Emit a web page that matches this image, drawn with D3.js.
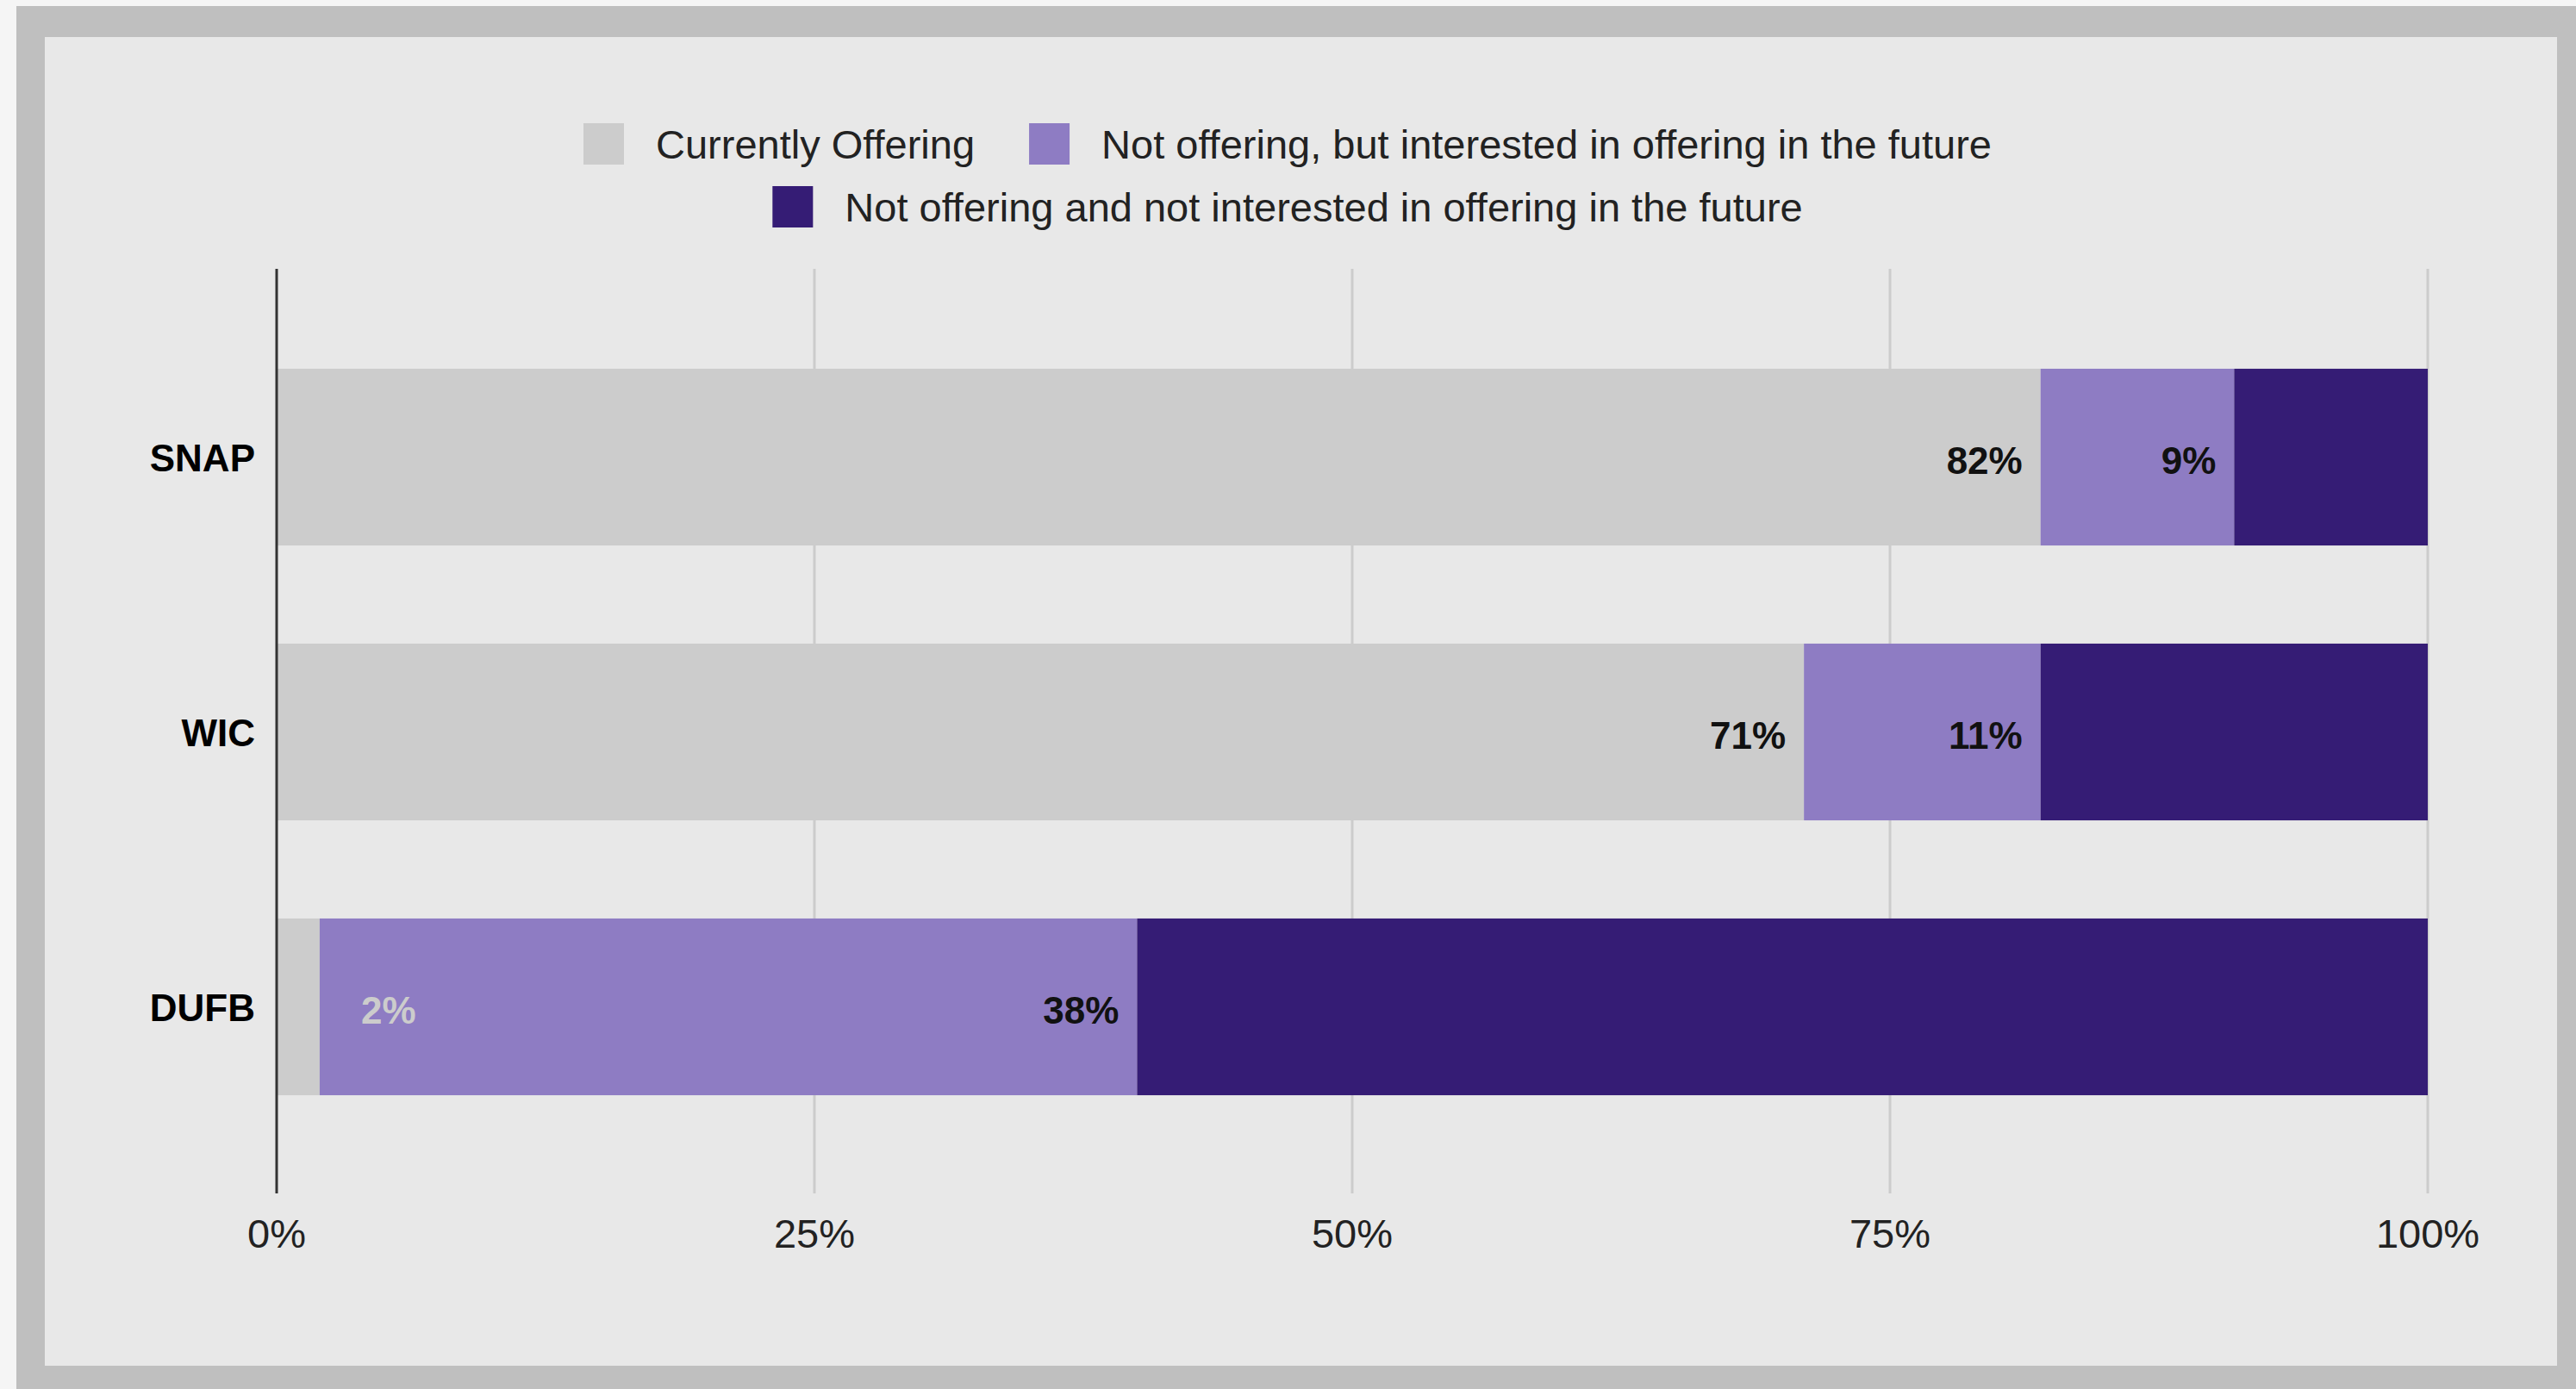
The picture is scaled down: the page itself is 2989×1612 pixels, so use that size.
<!DOCTYPE html>
<html>
<head>
<meta charset="utf-8">
<script src="https://cdn.jsdelivr.net/npm/d3@7"></script>
<style>
  body { margin: 0; background: #f5f5f5; }
  text { font-family: "Liberation Sans", Arial, sans-serif; }
</style>
</head>
<body>
<div id="chart"></div>
<script>
const categories = ['SNAP', 'WIC', 'DUFB'];
const seriesNames = [
    'Currently Offering',
    'Not offering, but interested in offering in the future',
    'Not offering and not interested in offering in the future'
];
const currentlyOffering = [82, 71, 2];
const interestedFuture = [9, 11, 38];
const notInterested = [9, 18, 60];
const tickValues = [0, 25, 50, 75, 100];
const seriesColors = ['#cccccc', '#8e7cc3', '#351c75'];
const showLabels = [true, true, false];

const W = 2989, H = 1612;

const svg = d3.select('#chart').append('svg')
    .attr('width', W)
    .attr('height', H);

// frame
svg.append('rect').attr('x', 0).attr('y', 0).attr('width', W).attr('height', H).attr('fill', '#f5f5f5');
svg.append('rect').attr('x', 19).attr('y', 7).attr('width', W - 19).attr('height', H - 7).attr('fill', '#bfbfbf');
svg.append('rect').attr('x', 52).attr('y', 43).attr('width', 2967 - 52).attr('height', 1585 - 43).attr('fill', '#e8e8e8');

const x = d3.scaleLinear().domain([0, 100]).range([321, 2817]);
const y = d3.scaleBand().domain(categories).range([371, 1328])
    .paddingInner(0.357).paddingOuter(0.1785);

const gridTop = 312, gridBottom = 1385;

// gridlines
svg.append('g').selectAll('line')
    .data(tickValues.filter(d => d > 0))
    .enter().append('line')
    .attr('x1', d => x(d)).attr('x2', d => x(d))
    .attr('y1', gridTop).attr('y2', gridBottom)
    .attr('stroke', '#cccccc')
    .attr('stroke-width', 3);

// tick labels
svg.append('g').selectAll('text')
    .data(tickValues)
    .enter().append('text')
    .attr('x', d => x(d))
    .attr('y', 1448)
    .attr('text-anchor', 'middle')
    .attr('font-size', 47)
    .attr('fill', '#222')
    .text(d => d + '%');

// stacked data
const rows = categories.map((c, i) => ({
    cat: c,
    vals: [currentlyOffering[i], interestedFuture[i], notInterested[i]]
}));

const segs = [];
rows.forEach(r => {
    let cum = 0;
    r.vals.forEach((v, s) => {
        segs.push({ cat: r.cat, s: s, v: v, x0: cum, x1: cum + v });
        cum += v;
    });
});

svg.append('g').selectAll('rect')
    .data(segs)
    .enter().append('rect')
    .attr('x', d => x(d.x0))
    .attr('y', d => y(d.cat))
    .attr('width', d => x(d.x1) - x(d.x0))
    .attr('height', y.bandwidth())
    .attr('fill', d => seriesColors[d.s]);

// value labels
const labelG = svg.append('g');
segs.filter(d => showLabels[d.s]).forEach(d => {
    const t = labelG.append('text')
        .attr('y', y(d.cat) + y.bandwidth() / 2 + 19)
        .attr('font-size', 44)
        .attr('font-weight', 'bold')
        .text(d.v + '%');
    const w = t.node().getComputedTextLength();
    const segW = x(d.x1) - x(d.x0);
    if (segW > w + 30) {
        t.attr('x', x(d.x1) - 21).attr('text-anchor', 'end').attr('fill', '#111');
    } else {
        t.attr('x', x(d.x1) + 48).attr('text-anchor', 'start').attr('fill', seriesColors[d.s]);
    }
});

// category labels
svg.append('g').selectAll('text')
    .data(categories)
    .enter().append('text')
    .attr('x', 296)
    .attr('y', d => y(d) + y.bandwidth() / 2 + 16)
    .attr('text-anchor', 'end')
    .attr('font-size', 44)
    .attr('font-weight', 'bold')
    .attr('fill', '#000')
    .text(d => d);

// y axis line
svg.append('line')
    .attr('x1', x(0)).attr('x2', x(0))
    .attr('y1', gridTop).attr('y2', gridBottom)
    .attr('stroke', '#333')
    .attr('stroke-width', 3);

// legend
const legendRows = [[0, 1], [2]];
const legendY = [167, 240];
const legendCenter = 1494;
const sw = 47, gapText = 37, gapItem = 63;

legendRows.forEach((items, r) => {
    const g = svg.append('g');
    let cx = 0;
    items.forEach((s, k) => {
        if (k > 0) cx += gapItem;
        g.append('rect')
            .attr('x', cx).attr('y', legendY[r] - 24)
            .attr('width', sw).attr('height', 48)
            .attr('fill', seriesColors[s]);
        cx += sw + gapText;
        const t = g.append('text')
            .attr('x', cx)
            .attr('y', legendY[r] + 17)
            .attr('font-size', 47)
            .attr('fill', '#222')
            .text(seriesNames[s]);
        cx += t.node().getComputedTextLength();
    });
    g.attr('transform', `translate(${legendCenter - cx / 2},0)`);
});
</script>
</body>
</html>
